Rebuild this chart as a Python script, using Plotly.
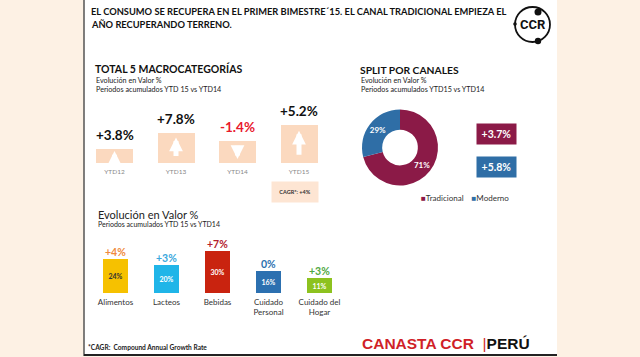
import plotly.graph_objects as go

# ---------------- data ----------------
periods = ["YTD12", "YTD13", "YTD14", "YTD15"]
period_growth = ["+3.8%", "+7.8%", "-1.4%", "+5.2%"]
period_box = [1.4, 3.0, 2.2, 3.8]          # relative box lengths
period_dir = ["up", "up", "down", "up"]
cagr_text = "CAGR*: +4%"

channels = ["Tradicional", "Moderno"]
channel_share = [71, 29]
channel_growth = ["+3.7%", "+5.8%"]

categories = ["Alimentos", "Lacteos", "Bebidas", "Cuidado<br>Personal", "Cuidado del<br>Hogar"]
cat_share = [24, 20, 30, 16, 11]
cat_growth = ["+4%", "+3%", "+7%", "0%", "+3%"]

# ---------------- styles ----------------
W, H = 640, 357
BG = "#fdf1e4"
PEACH = "#fbd9bf"
MAROON = "#8b1a47"
BLUE = "#2f6ea6"
cat_colors = ["#f6c100", "#20b5e8", "#c9230f", "#2c70b0", "#8dc21f"]
cat_label_colors = ["#ef8a3c", "#3aa8dd", "#b3202c", "#2c70b0", "#4fa843"]
cat_text_colors = ["#333333", "white", "white", "white", "white"]
growth_colors = ["#111111", "#111111", "#e8192c", "#111111"]
FONT = "Lato"


def px(x):
    return x / W


def py(y):
    return 1 - y / H


fig = go.Figure()

# top-left boxes
fig.add_trace(go.Bar(
    x=periods, y=period_box, marker=dict(color=PEACH, line=dict(width=0)),
    width=0.6, hoverinfo="skip", xaxis="x", yaxis="y", showlegend=False))

# bottom category bars
fig.add_trace(go.Bar(
    x=categories, y=cat_share, marker=dict(color=cat_colors, line=dict(width=0)),
    width=0.49, text=[f"<b>{v}%</b>" for v in cat_share], textposition="inside",
    insidetextanchor="middle", textangle=0,
    textfont=dict(size=7, color=cat_text_colors, family=FONT),
    hoverinfo="skip", xaxis="x2", yaxis="y2", showlegend=False))

# donut
fig.add_trace(go.Pie(
    labels=channels, values=channel_share, hole=0.47, sort=False,
    direction="clockwise", rotation=0,
    marker=dict(colors=[MAROON, BLUE], line=dict(width=0)),
    textinfo="percent", texttemplate="<b>%{percent:.0%}</b>", textposition="inside",
    insidetextorientation="horizontal",
    textfont=dict(size=8, color="white", family=FONT),
    domain=dict(x=[px(362), px(438)], y=[py(186), py(109)]),
    showlegend=False, hoverinfo="skip"))

ann = []
shapes = []

# white panel + borders
shapes.append(dict(type="rect", xref="paper", yref="paper", x0=px(84), x1=px(557), y0=py(355), y1=1,
                   fillcolor="white", line=dict(width=0), layer="below"))
shapes.append(dict(type="line", xref="paper", yref="paper", x0=px(84), x1=px(84), y0=py(356), y1=1,
                   line=dict(color="#555555", width=1.5)))
shapes.append(dict(type="line", xref="paper", yref="paper", x0=px(84), x1=px(557), y0=py(355), y1=py(355),
                   line=dict(color="#222222", width=2)))

# header
ann.append(dict(text="<b>EL CONSUMO SE RECUPERA EN EL PRIMER BIMESTRE´15. EL CANAL TRADICIONAL EMPIEZA EL</b>",
                x=px(89), y=py(12), xanchor="left", yanchor="middle", font=dict(size=9.3, color="#111", family=FONT)))
ann.append(dict(text="<b>AÑO RECUPERANDO TERRENO.</b>",
                x=px(89), y=py(25), xanchor="left", yanchor="middle", font=dict(size=9.3, color="#111", family=FONT)))

# logo
shapes.append(dict(type="circle", xref="paper", yref="paper", x0=px(515), x1=px(550), y0=py(42), y1=py(7),
                   line=dict(color="#111", width=1.8)))
for cx, cy, r in [(538, 12, 3.5), (538, 41, 3.2), (515, 24, 1.8)]:
    shapes.append(dict(type="circle", xref="paper", yref="paper", x0=px(cx - r), x1=px(cx + r),
                       y0=py(cy + r), y1=py(cy - r), fillcolor="#111", line=dict(width=0)))
ann.append(dict(text="<b>CCR</b>", x=px(532.5), y=py(25), xanchor="center", yanchor="middle",
                font=dict(size=13, color="#111", family="Roboto")))

# section titles
ann.append(dict(text="<b>TOTAL 5 MACROCATEGORÍAS</b>", x=px(93), y=py(69), xanchor="left", yanchor="middle",
                font=dict(size=10.5, color="#111", family=FONT)))
ann.append(dict(text="Evolución en Valor %", x=px(94), y=py(80), xanchor="left", yanchor="middle",
                font=dict(size=7.2, color="#222", family=FONT)))
ann.append(dict(text="Periodos acumulados YTD 15 vs YTD14", x=px(94), y=py(89), xanchor="left", yanchor="middle",
                font=dict(size=7.2, color="#222", family=FONT)))

ann.append(dict(text="<b>SPLIT POR CANALES</b>", x=px(358), y=py(70), xanchor="left", yanchor="middle",
                font=dict(size=10.3, color="#111", family=FONT)))
ann.append(dict(text="Evolución en Valor %", x=px(359), y=py(80), xanchor="left", yanchor="middle",
                font=dict(size=7.2, color="#222", family=FONT)))
ann.append(dict(text="Periodos acumulados YTD15 vs YTD14", x=px(359), y=py(89), xanchor="left", yanchor="middle",
                font=dict(size=7.2, color="#222", family=FONT)))

ann.append(dict(text="Evolución en Valor %", x=px(96), y=py(214), xanchor="left", yanchor="middle",
                font=dict(size=11, color="#222", family=FONT)))
ann.append(dict(text="Periodos acumulados YTD 15 vs YTD14", x=px(96), y=py(224), xanchor="left", yanchor="middle",
                font=dict(size=7, color="#222", family=FONT)))

# growth labels above peach boxes + arrows
for p, g, h, d, c in zip(periods, period_growth, period_box, period_dir, growth_colors):
    ann.append(dict(text=f"<b>{g}</b>", x=p, y=h, xref="x", yref="y", xanchor="center", yanchor="middle",
                    yshift=14, showarrow=False, font=dict(size=13.5, color=c, family=FONT)))
    lo, hi = 0.18 * h, 0.85 * h
    head, tail = (hi, lo) if d == "up" else (lo, hi)
    ann.append(dict(text="", x=p, y=head, xref="x", yref="y", ax=p, ay=tail, axref="x", ayref="y",
                    showarrow=True, arrowhead=2, arrowsize=0.55, arrowwidth=5, arrowcolor="white"))

# CAGR box
ann.append(dict(text="<b>" + cagr_text + "</b>", x=px(295), y=py(192), xanchor="center", yanchor="middle",
                width=44, height=18, bgcolor="#fde5d3", font=dict(size=5.5, color="#333", family=FONT)))

# channel growth boxes
for g, c, yy in zip(channel_growth, [MAROON, BLUE], [134, 166.5]):
    ann.append(dict(text=f"<b>{g}</b>", x=px(496.5), y=py(yy), xanchor="center", yanchor="middle",
                    width=37, height=18, bgcolor=c, font=dict(size=10.5, color="white", family=FONT)))

# donut legend
ann.append(dict(text=f"<span style='color:{MAROON}'>■</span>{channels[0]}\u2002\u2002"
                     f"<span style='color:{BLUE}'>■</span>{channels[1]}",
                x=px(419), y=py(198), xanchor="left", yanchor="middle",
                font=dict(size=8, color="#333", family=FONT)))

# category growth labels
for cat, v, g, c in zip(categories, cat_share, cat_growth, cat_label_colors):
    ann.append(dict(text=f"<b>{g}</b>", x=cat, y=v, xref="x2", yref="y2", xanchor="center", yanchor="bottom",
                    yshift=-1, showarrow=False, font=dict(size=10.5, color=c, family=FONT)))

# footnote & brand
ann.append(dict(text="<b>*CAGR:  Compound Annual Growth Rate</b>", x=px(86), y=py(347), xanchor="left",
                yanchor="middle", font=dict(size=6.6, color="#222", family=FONT)))
ann.append(dict(text="<b>CANASTA CCR</b>  <span style='font-weight:normal'>|</span>"
                     "<span style='color:#111'><b>PERÚ</b></span>",
                x=px(360), y=py(343), xanchor="left", yanchor="middle",
                font=dict(size=15.5, color="#d01f28", family="Liberation Sans")))

for a in ann:
    a.setdefault("xref", "paper")
    a.setdefault("yref", "paper")
    a.setdefault("showarrow", False)

fig.update_layout(
    width=W, height=H, margin=dict(l=0, r=0, t=0, b=0),
    paper_bgcolor=BG, plot_bgcolor="rgba(0,0,0,0)",
    font=dict(family=FONT),
    annotations=ann, shapes=shapes,
    xaxis=dict(domain=[px(83.75), px(329.75)], range=[-0.5, 3.5], showgrid=False, zeroline=False,
               showline=False, ticks="", ticklabelstandoff=3,
               tickfont=dict(size=6.5, color="#888", family=FONT), fixedrange=True),
    yaxis=dict(domain=[py(163), py(100)], range=[0, 6.3], visible=False, fixedrange=True),
    xaxis2=dict(domain=[px(90), px(345)], range=[-0.5, 4.5], anchor="y2", showgrid=False, zeroline=False,
                showline=False, ticks="", ticklabelstandoff=3,
                tickfont=dict(size=8, color="#333", family=FONT), fixedrange=True),
    yaxis2=dict(domain=[py(293), py(233)], range=[0, 60 / 1.4], visible=False, anchor="x2", fixedrange=True),
    bargap=0,
)

fig.write_html("out.html", config={"displayModeBar": False},
               post_script="document.body.style.margin='0';document.body.style.overflow='hidden';"
                           "document.body.style.background='" + BG + "';")
